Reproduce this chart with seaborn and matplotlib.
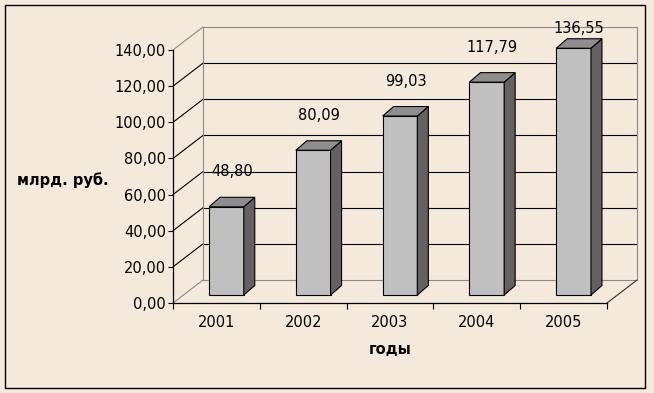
import numpy as np
import pandas as pd
import seaborn as sns
import matplotlib
matplotlib.use("Agg")
import matplotlib.pyplot as plt
from matplotlib.transforms import ScaledTranslation
from matplotlib.patches import Polygon, Rectangle
from matplotlib.lines import Line2D

# ---- data ----
years = ["2001", "2002", "2003", "2004", "2005"]
values = [48.80, 80.09, 99.03, 117.79, 136.55]
y_ticks = [0, 20, 40, 60, 80, 100, 120, 140]
y_tick_labels = ["0,00", "20,00", "40,00", "60,00", "80,00", "100,00", "120,00", "140,00"]
x_title = "годы"
y_title = "млрд. руб."

# ---- style ----
BG = "#F4E9DB"
FRONT = "#C0C0C0"
SIDE = "#646064"
TOP = "#8E8E8E"
GRAY = "#8A8A8A"
FS = 10.5

sns.set_theme(style="white")
plt.rcParams["font.family"] = ["DejaVu Sans"]
plt.rcParams.update({"text.color": "black", "axes.labelcolor": "black",
                     "xtick.color": "black", "ytick.color": "black"})

W, H = 654, 393
fig = plt.figure(figsize=(W / 100, H / 100), dpi=100, facecolor=BG)
ax = fig.add_axes([173 / W, (H - 303) / H, 434 / W, 253 / H])
ax.set_facecolor("none")

df = pd.DataFrame({"year": years, "value": values})
sns.barplot(data=df, x="year", y="value", ax=ax, color=FRONT, saturation=1,
            width=0.4, edgecolor="black", linewidth=0.8, zorder=5, errorbar=None)

ax.set_xlim(-0.5, len(years) - 0.5)
ax.set_ylim(0, 140)

# pixel -> data conversion (axes are 434 x 253 px)
px_x = 434 / len(years)
px_y = 253 / 140

def dxd(p):
    return p / px_x

def dyd(p):
    return p / px_y

# depth offsets
wall_dx, wall_dy = dxd(30), dyd(23)      # back wall depth
bar_sx, bar_sy = 10, 8                    # bars shifted into depth (px)
bar_dx, bar_dy = dxd(11), dyd(9.5)        # bar depth

shift_tr = ax.transData + ScaledTranslation(bar_sx / 100, bar_sy / 100, fig.dpi_scale_trans)

# back wall + side wall gridlines
x0w, x1w = -0.5, len(years) - 0.5
for v in y_ticks:
    col = GRAY if v in (y_ticks[0], y_ticks[-1]) else "black"
    ax.add_line(Line2D([x0w, x0w + wall_dx], [v, v + wall_dy], color=col, lw=0.8, clip_on=False, zorder=1))
    ax.add_line(Line2D([x0w + wall_dx, x1w + wall_dx], [v + wall_dy, v + wall_dy], color=col, lw=0.8, clip_on=False, zorder=1))
for xw in (x0w + wall_dx, x1w + wall_dx):
    ax.add_line(Line2D([xw, xw], [wall_dy, y_ticks[-1] + wall_dy], color=GRAY, lw=0.8, clip_on=False, zorder=1))
ax.add_line(Line2D([x1w, x1w + wall_dx], [0, wall_dy], color="#303030", lw=0.8, clip_on=False, zorder=1))

# 3D bars
label_gap = dyd(35)
label_max = dyd(266)
for p, v in zip(ax.patches, values):
    p.set_transform(shift_tr)
    p.set_clip_on(False)
    x0, w, h = p.get_x(), p.get_width(), p.get_height()
    side = Polygon([(x0 + w, 0), (x0 + w + bar_dx, bar_dy), (x0 + w + bar_dx, h + bar_dy), (x0 + w, h)],
                   closed=True, facecolor=SIDE, edgecolor="black", lw=0.8, transform=shift_tr,
                   clip_on=False, zorder=5)
    top = Polygon([(x0, h), (x0 + w, h), (x0 + w + bar_dx, h + bar_dy), (x0 + bar_dx, h + bar_dy)],
                  closed=True, facecolor=TOP, edgecolor="black", lw=0.8, transform=shift_tr,
                  clip_on=False, zorder=5)
    ax.add_patch(side)
    ax.add_patch(top)
    ax.text(x0 + (w + bar_dx) / 2, min(h + label_gap, label_max), f"{v:.2f}".replace(".", ","),
            transform=shift_tr, ha="center", va="center", fontsize=FS, color="black", zorder=6)

# axes / ticks
for s in ("top", "right"):
    ax.spines[s].set_visible(False)
for s in ("left", "bottom"):
    ax.spines[s].set_color("black")
    ax.spines[s].set_linewidth(0.9)

ax.set_yticks(y_ticks, y_tick_labels)
ax.tick_params(axis="y", direction="out", length=3.6, width=0.8, color="black",
               labelcolor="black", labelsize=FS, pad=1.5, left=True)
ax.set_xticks(np.arange(-0.5, len(years)), [""] * (len(years) + 1))
ax.set_xticks(np.arange(len(years)), years, minor=True)
ax.tick_params(axis="x", which="major", direction="out", length=4.5, width=0.8, color="black", bottom=True)
ax.tick_params(axis="x", which="minor", length=0, labelsize=FS, labelcolor="black", pad=8.5, bottom=True)

ax.set_xlabel(x_title, fontsize=FS, fontweight="bold", color="black", va="center")
ax.set_ylabel(y_title, fontsize=FS, fontweight="bold", color="black", rotation=0, ha="center", va="center")
ax.xaxis.set_label_coords(0.5, (303 - 349) / 253)
ax.yaxis.set_label_coords((63 - 173) / 434, (303 - 180) / 253)

# outer border
fig.add_artist(Rectangle((5 / W, (H - 388) / H), 640 / W, 383 / H, transform=fig.transFigure,
                         fill=False, edgecolor="black", lw=1.0))

fig.savefig("out.png", dpi=100, facecolor=BG)
